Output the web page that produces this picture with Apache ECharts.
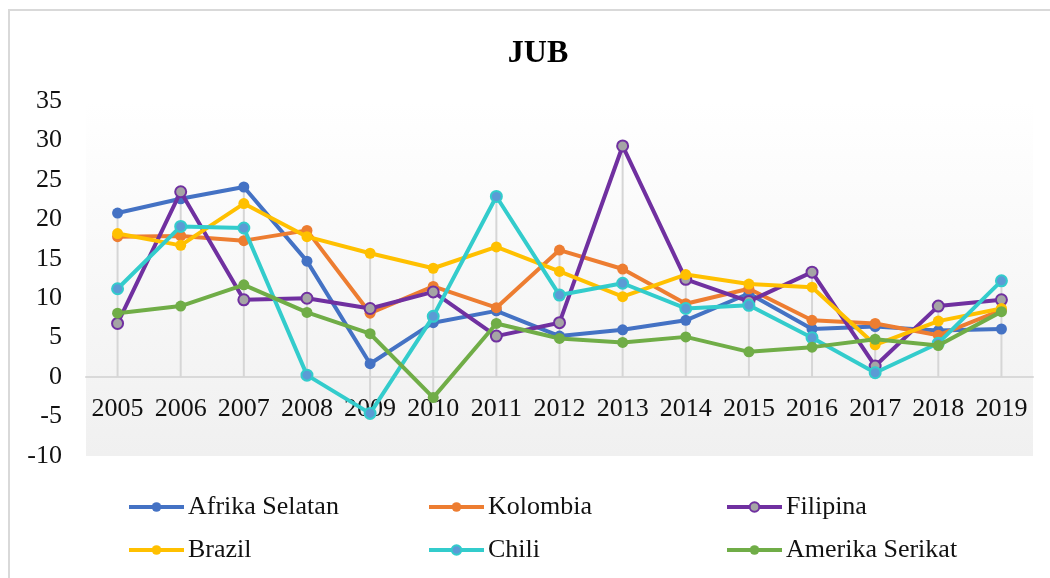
<!DOCTYPE html>
<html><head><meta charset="utf-8">
<script src="https://cdn.jsdelivr.net/npm/echarts@6/dist/echarts.min.js"></script>
<style>html,body{margin:0;padding:0;background:#fff}#c{width:1050px;height:578px}</style>
</head><body><div id="c"></div>
<script>
const years = ['2005','2006','2007','2008','2009','2010','2011','2012','2013','2014','2015','2016','2017','2018','2019'];
const afrikaSelatan = [20.8,22.6,24.1,14.7,1.7,6.9,8.4,5.2,6.0,7.2,10.6,6.1,6.4,5.9,6.1];
const kolombia      = [17.8,17.9,17.3,18.6,8.1,11.5,8.8,16.1,13.7,9.3,11.2,7.2,6.8,5.3,8.5];
const filipina      = [6.8,23.5,9.8,10.0,8.7,10.8,5.2,6.9,29.3,12.4,9.6,13.3,1.4,9.0,9.8];
const brazil        = [18.2,16.7,22.0,17.8,15.7,13.8,16.5,13.4,10.2,13.0,11.8,11.4,4.1,7.1,8.7];
const chili         = [11.2,19.1,18.9,0.25,-4.6,7.7,22.9,10.4,11.9,8.7,9.1,5.0,0.55,4.3,12.2];
const amerikaSerikat= [8.1,9.0,11.7,8.2,5.5,-2.6,6.8,4.9,4.4,5.1,3.2,3.8,4.8,4.0,8.3];
const yTicks = [-10,-5,0,5,10,15,20,25,30,35];

const seriesDefs = [
  {name:'Afrika Selatan', data:afrikaSelatan, color:'#4472c4', fill:'#4472c4'},
  {name:'Kolombia', data:kolombia, color:'#ed7d31', fill:'#ed7d31'},
  {name:'Filipina', data:filipina, color:'#7030a0', fill:'#a5a5a5'},
  {name:'Brazil', data:brazil, color:'#ffc000', fill:'#ffc000'},
  {name:'Chili', data:chili, color:'#33cccc', fill:'#5b9bd5'},
  {name:'Amerika Serikat', data:amerikaSerikat, color:'#70ad47', fill:'#70ad47'}
];

const dropData = years.map((y,i)=>{
  const vals = seriesDefs.map(s=>s.data[i]);
  return [i, Math.max(0, ...vals), Math.min(0, ...vals)];
});

const font = "'Liberation Serif','DejaVu Serif',serif";
const legendPos = [[127,494],[427,494],[725,494],[127,537],[427,537],[725,537]];
const legendOrder = ['Afrika Selatan','Kolombia','Filipina','Brazil','Chili','Amerika Serikat'];

const chart = echarts.init(document.getElementById('c'));
chart.setOption({
  animation:false,
  graphic:[{type:'rect', shape:{x:9,y:10,width:1200,height:800}, style:{fill:'none', stroke:'#d9d9d9', lineWidth:2}, z:-10, silent:true}],
  title:{text:'JUB', left:533, textAlign:'center', top:33, textStyle:{fontFamily:font, fontSize:32, fontWeight:'bold', color:'#000'}},
  legend: legendOrder.map((n,i)=>({
    data:[n], left:legendPos[i][0], top:legendPos[i][1], padding:0, itemWidth:55, itemHeight:12, itemGap:5,
    lineStyle:{width:4},
    textStyle:{fontFamily:font, fontSize:26, color:'#111', padding:[0,0,0,-1]}
  })),
  grid:{left:86, right:17, top:101, bottom:122, show:true, borderWidth:0,
    backgroundColor:new echarts.graphic.LinearGradient(0,0,0,1,[{offset:0,color:'#ffffff'},{offset:0.15,color:'#fdfdfd'},{offset:1,color:'#f0f0f0'}])},
  xAxis:{type:'category', data:years, boundaryGap:true,
    axisLine:{onZero:true, lineStyle:{color:'#d9d9d9', width:2}}, axisTick:{show:false},
    axisLabel:{interval:0, margin:-60, fontFamily:font, fontSize:26, color:'#111'}},
  yAxis:{type:'value', min:yTicks[0], max:yTicks[yTicks.length-1], interval:5,
    axisLine:{show:false}, axisTick:{show:false}, splitLine:{show:false},
    axisLabel:{margin:24, fontFamily:font, fontSize:26, color:'#111'}},
  series:[
    {type:'custom', name:'drop', z:1, silent:true, data:dropData,
     encode:{x:0, y:[1,2]},
     renderItem:(params, api)=>{
       const p1 = api.coord([api.value(0), api.value(1)]);
       const p2 = api.coord([api.value(0), api.value(2)]);
       return {type:'line', shape:{x1:p1[0],y1:p1[1],x2:p2[0],y2:p2[1]}, style:{stroke:'#d6d6d6', lineWidth:2}};
     }},
    ...seriesDefs.map((s,k)=>({
      type:'line', name:s.name, data:s.data, z:2+k,
      symbol:'circle', symbolSize:11,
      lineStyle:{color:s.color, width:4},
      itemStyle:{color:s.fill, borderColor:s.color, borderWidth:s.fill===s.color?0:2},
      emphasis:{disabled:true}
    }))
  ]
});
</script></body></html>
